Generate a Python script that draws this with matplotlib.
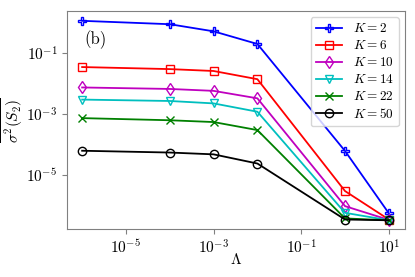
import matplotlib
matplotlib.use("Agg")
import matplotlib.pyplot as plt
from matplotlib.ticker import NullLocator

plt.rcParams["font.family"] = "serif"
plt.rcParams["font.serif"] = ["cmr10", "DejaVu Serif"]
plt.rcParams["mathtext.fontset"] = "cm"
plt.rcParams["axes.formatter.use_mathtext"] = True

lam = [1e-6, 1e-4, 1e-3, 1e-2, 1.0, 10.0]
k_values = [2, 6, 10, 14, 22, 50]
var_k2 = [1.15, 0.89, 0.52, 0.20, 6.2e-5, 5.6e-7]
var_k6 = [0.035, 0.030, 0.026, 0.014, 3.0e-6, 3.5e-7]
var_k10 = [7.5e-3, 6.7e-3, 5.8e-3, 3.3e-3, 9.6e-7, 3.4e-7]
var_k14 = [3.0e-3, 2.7e-3, 2.25e-3, 1.2e-3, 5.8e-7, 3.3e-7]
var_k22 = [7.4e-4, 6.3e-4, 5.5e-4, 3.0e-4, 3.8e-7, 3.3e-7]
var_k50 = [6.3e-5, 5.5e-5, 4.8e-5, 2.4e-5, 3.5e-7, 3.3e-7]
series = [var_k2, var_k6, var_k10, var_k14, var_k22, var_k50]
x_ticks = [1e-5, 1e-3, 1e-1, 1e1]
y_ticks = [1e-5, 1e-3, 1e-1]

colors = ["b", "r", "m", "c", "g", "k"]
markers = ["P", "s", "d", "v", "x", "o"]

fig, ax = plt.subplots(figsize=(4.15, 2.77), dpi=100)
for k, y, c, m in zip(k_values, series, colors, markers):
    ax.plot(lam, y, color=c, marker=m, mfc="none", ms=6, lw=1.3,
            label=rf"$K={k}$")

ax.set_xscale("log")
ax.set_yscale("log")
ax.set_xlim(10 ** -6.34, 10 ** 1.37)
ax.set_ylim(10 ** -6.77, 10 ** 0.38)
ax.set_xticks(x_ticks)
ax.set_yticks(y_ticks)
ax.xaxis.set_minor_locator(NullLocator())
ax.yaxis.set_minor_locator(NullLocator())
for s in ax.spines.values():
    s.set_color("0.5")
ax.tick_params(colors="0.5", labelcolor="k", labelsize=11)

ax.set_xlabel(r"$\Lambda$", fontsize=11)
ax.set_ylabel(r"$\overline{\sigma^{2}(S_{2})}$", fontsize=11)
ax.xaxis.set_label_coords(0.5, -0.105)
ax.yaxis.set_label_coords(-0.125, 0.5)
ax.text(0.05, 0.85, "(b)", transform=ax.transAxes, fontsize=12)
ax.legend(loc="upper right", fontsize=9.5, handlelength=2.0,
          labelspacing=0.3, borderpad=0.4, borderaxespad=0.45)

fig.subplots_adjust(left=0.162, right=0.976, top=0.96, bottom=0.173)
fig.savefig("out.png", dpi=100)
